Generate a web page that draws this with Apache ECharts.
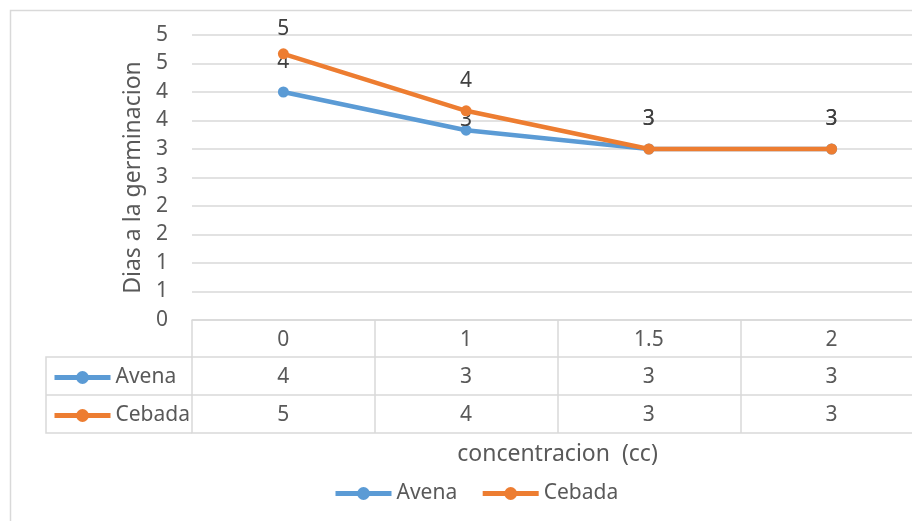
<!DOCTYPE html>
<html>
<head>
<meta charset="utf-8">
<script src="https://cdn.jsdelivr.net/npm/echarts@6/dist/echarts.min.js"></script>
<style>
  html, body { margin: 0; padding: 0; background: #ffffff; }
  #chart { width: 912px; height: 521px; }
</style>
</head>
<body>
<div id="chart"></div>
<script>
// Days to germination by concentration (cc)
const concentraciones = ['0', '1', '1.5', '2'];
const avena = [4, 3.33, 3, 3];
const cebada = [4.67, 3.67, 3, 3];
const seriesNames = ['Avena', 'Cebada'];

const FONT = 'Noto Sans';
const GRID = '#D9D9D9';
const TEXT = '#595959';
const LABEL = '#404040';
const COLORS = ['#5B9BD5', '#ED7D31'];

// numbers are shown with no decimals
const fmt = v => String(Math.round(v));

// small vertical nudges for a few point labels (px)
const labelNudge = [{ 1: 20 }, { 0: 5 }];

const chart = echarts.init(document.getElementById('chart'), null, { renderer: 'canvas' });

const textBase = { fontFamily: FONT, fontSize: 21, color: TEXT };

// extra category axes form the rows of the data table under the plot
function rowAxis(values, offset, extra) {
  return Object.assign({
    type: 'category',
    data: concentraciones,
    gridIndex: 0,
    position: 'bottom',
    offset: offset,
    axisLine: { show: true, lineStyle: { color: GRID, width: 1.5 } },
    axisTick: { show: false },
    axisLabel: {
      show: !!values,
      margin: 10,
      ...textBase,
      formatter: (v, i) => (values ? fmt(values[i]) : '')
    },
    splitLine: { show: false }
  }, extra || {});
}

function lineSeries(name, values, idx) {
  return {
    name: name,
    type: 'line',
    data: values.map((v, i) =>
      labelNudge[idx][i] !== undefined
        ? { value: v, label: { offset: [0, labelNudge[idx][i]] } }
        : v),
    color: COLORS[idx],
    symbol: 'circle',
    symbolSize: 11,
    lineStyle: { width: 4.5, color: COLORS[idx] },
    itemStyle: { color: COLORS[idx] },
    label: {
      show: true,
      position: 'top',
      distance: 14,
      fontFamily: FONT,
      fontSize: 21,
      color: LABEL,
      formatter: p => fmt(p.value)
    },
    emphasis: { disabled: true },
    z: 3 + idx
  };
}

const legendBase = {
  data: seriesNames,
  selectedMode: false,
  padding: 0,
  itemWidth: 56,
  itemHeight: 16,
  lineStyle: { width: 5 },
  textStyle: textBase
};

const option = {
  animation: false,
  backgroundColor: '#ffffff',
  grid: { left: 192, top: 35, width: 731, height: 285, containLabel: false, outerBoundsMode: 'none' },
  xAxis: [
    {
      type: 'category',
      data: concentraciones,
      position: 'bottom',
      boundaryGap: true,
      axisLine: { show: true, lineStyle: { color: GRID, width: 1.5 } },
      axisTick: { show: true, inside: false, length: 113, alignWithLabel: false,
                  lineStyle: { color: GRID, width: 1.5 } },
      axisLabel: { margin: 10, ...textBase },
      splitLine: { show: false }
    },
    rowAxis(avena, 37),
    rowAxis(cebada, 75),
    rowAxis(null, 113, {
      name: 'concentracion  (cc)',
      nameLocation: 'middle',
      nameGap: 10,
      nameTextStyle: { fontFamily: FONT, fontSize: 23, color: TEXT }
    })
  ],
  yAxis: {
    type: 'value',
    min: 0,
    max: 5,
    interval: 0.5,
    name: 'Dias a la germinacion',
    nameLocation: 'middle',
    nameRotate: 90,
    nameGap: 38,
    nameTextStyle: { fontFamily: FONT, fontSize: 23, color: TEXT },
    axisLine: { show: false },
    axisTick: { show: false },
    axisLabel: { margin: 24, ...textBase, formatter: v => fmt(v) },
    splitLine: { show: true, lineStyle: { color: GRID, width: 1.5 } }
  },
  legend: [
    Object.assign({ orient: 'horizontal', left: 333, top: 483, itemGap: 23 }, legendBase),
    Object.assign({ orient: 'vertical', left: 52, top: 367, itemGap: 17 }, legendBase)
  ],
  series: [
    lineSeries('Avena', avena, 0),
    lineSeries('Cebada', cebada, 1)
  ],
  graphic: [
    // chart frame
    { type: 'rect', silent: true, z: 0,
      shape: { x: 10.5, y: 10.5, width: 1200, height: 1200 },
      style: { fill: 'none', stroke: GRID, lineWidth: 1.5 } },
    // header column of the data table
    { type: 'polyline', silent: true, z: 0,
      shape: { points: [[192, 357], [46, 357], [46, 433], [192, 433]] },
      style: { fill: 'none', stroke: GRID, lineWidth: 1.5 } },
    { type: 'line', silent: true, z: 0,
      shape: { x1: 46, y1: 395, x2: 192, y2: 395 },
      style: { stroke: GRID, lineWidth: 1.5 } }
  ]
};

chart.setOption(option);
</script>
</body>
</html>
